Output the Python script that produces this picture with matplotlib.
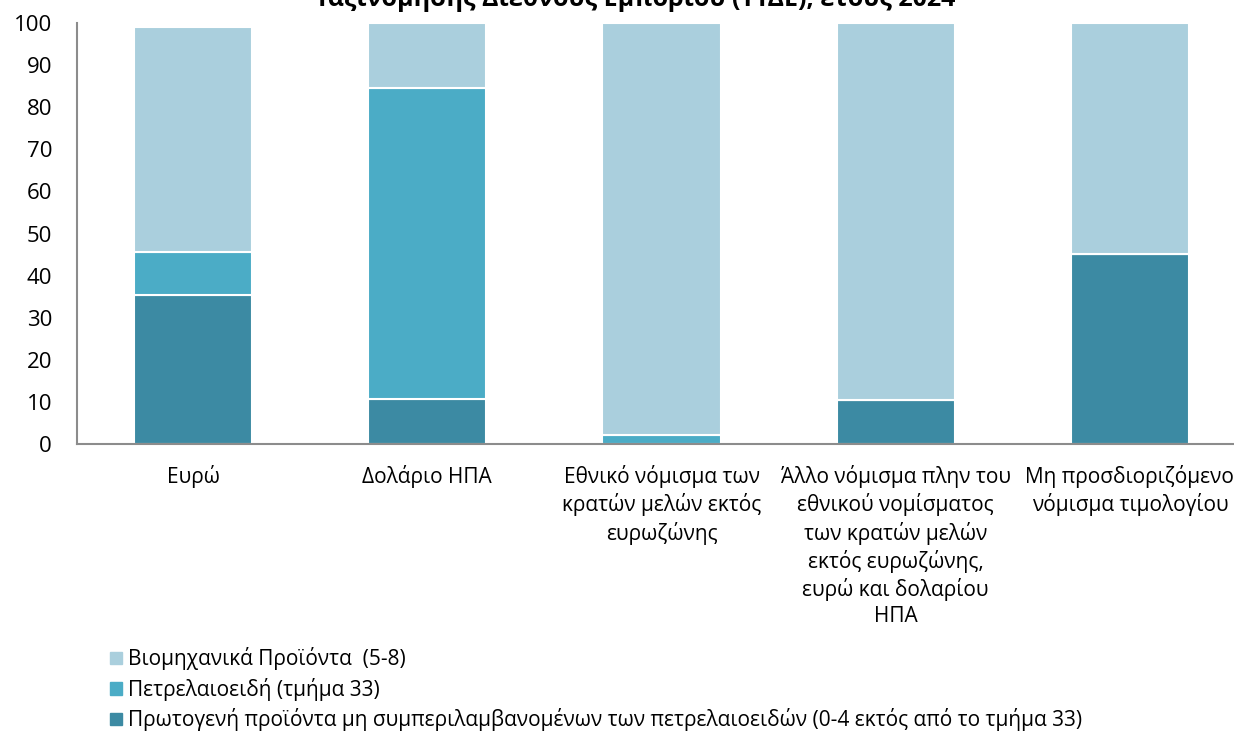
import matplotlib.pyplot as plt
from matplotlib.patches import Patch

plt.rcParams['font.family'] = ['Open Sans', 'DejaVu Sans']

categories = [
    'Ευρώ',
    'Δολάριο ΗΠΑ',
    'Εθνικό νόμισμα των\nκρατών μελών εκτός\nευρωζώνης',
    'Άλλο νόμισμα πλην του\nεθνικού νομίσματος\nτων κρατών μελών\nεκτός ευρωζώνης,\nευρώ και δολαρίου\nΗΠΑ',
    'Μη προσδιοριζόμενο\nνόμισμα τιμολογίου',
]
series_names = [
    'Βιομηχανικά Προϊόντα  (5-8)',
    'Πετρελαιοειδή (τμήμα 33)',
    'Πρωτογενή προϊόντα μη συμπεριλαμβανομένων των πετρελαιοειδών (0-4 εκτός από το τμήμα 33)',
]
primary = [35.5, 10.8, 0.0, 10.5, 45.1]
oil = [10.0, 73.8, 2.1, 0.0, 0.0]
industrial = [53.5, 15.4, 97.9, 89.5, 54.9]

c_light = '#AACFDD'
c_mid = '#4BACC6'
c_dark = '#3C8AA3'

fig = plt.figure(figsize=(12.34, 7.33), dpi=100)
ax = fig.add_axes([77 / 1234, 1 - 444 / 733, (1247 - 77) / 1234, (444 - 23) / 733])

x = list(range(len(categories)))
w = 0.505
bottom2 = [a + b for a, b in zip(primary, oil)]
ax.bar(x, primary, w, color=c_dark, edgecolor='white', linewidth=1.5)
ax.bar(x, oil, w, bottom=primary, color=c_mid, edgecolor='white', linewidth=1.5)
ax.bar(x, industrial, w, bottom=bottom2, color=c_light, edgecolor='white', linewidth=1.5)

ax.set_xlim(-0.496, 4.5)
ax.set_ylim(0, 100)
ax.set_yticks(range(0, 101, 10))
ax.tick_params(axis='y', length=0, labelsize=16, pad=18)
ax.set_xticks(x)
ax.set_xticklabels(categories, fontsize=15, linespacing=1.3)
ax.tick_params(axis='x', length=0, pad=15)
for s in ['top', 'right']:
    ax.spines[s].set_visible(False)
for s in ['left', 'bottom']:
    ax.spines[s].set_color('#8C8C8C')
    ax.spines[s].set_linewidth(1.5)

fig.text(0.515, 1 - 6 / 733, 'Ταξινόμησης Διεθνούς Εμπορίου (ΤΤΔΕ), έτους 2024',
         ha='center', va='baseline', fontsize=18, fontweight='bold')

handles = [Patch(color=c_light), Patch(color=c_mid), Patch(color=c_dark)]
fig.legend(handles, series_names, loc='upper left', bbox_to_anchor=(102 / 1234, 1 - 639 / 733),
           frameon=False, fontsize=15, handlelength=0.55, handleheight=0.55,
           handletextpad=0.3, labelspacing=0.36, borderaxespad=0)

fig.savefig('out.png', dpi=100)
